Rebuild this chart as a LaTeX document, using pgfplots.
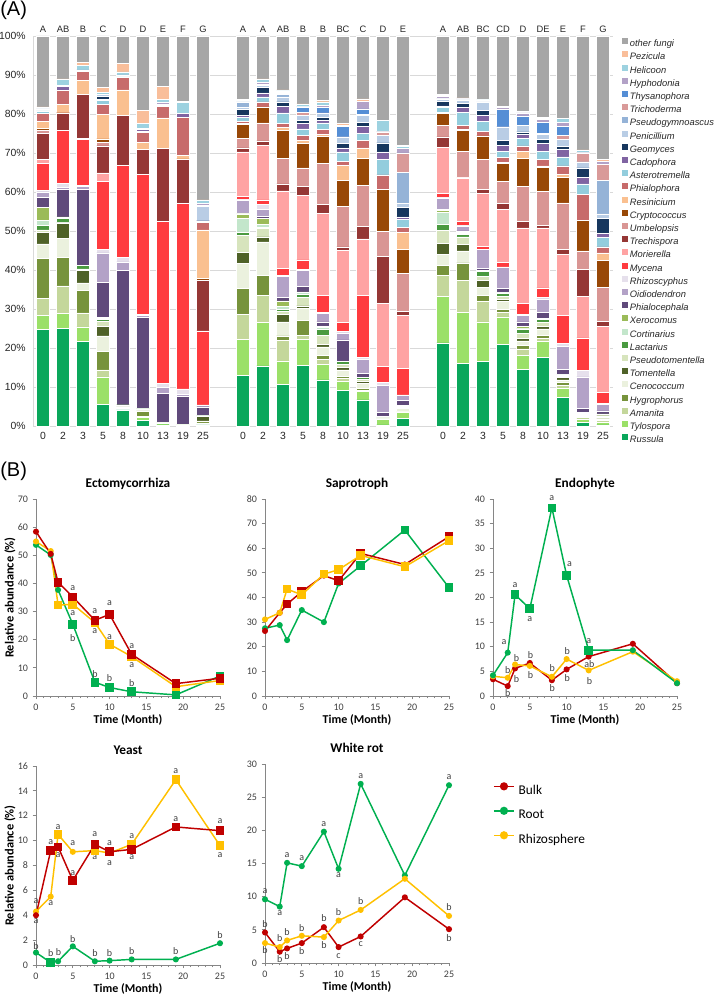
\documentclass[border=0pt]{standalone}
\usepackage{pgfplots}
\pgfplotsset{compat=1.18}
\usepackage{pgfplotstable}
\usepackage{fontspec}
\setmainfont{Liberation Sans}
\newfontfamily\calfont{Carlito}

\definecolor{cRus}{HTML}{0AA75B}
\definecolor{cTyl}{HTML}{9BE068}
\definecolor{cAma}{HTML}{C4D79B}
\definecolor{cHyg}{HTML}{77933C}
\definecolor{cCen}{HTML}{EBF1DE}
\definecolor{cTom}{HTML}{4F6228}
\definecolor{cPst}{HTML}{D7E4BD}
\definecolor{cLac}{HTML}{4A9A40}
\definecolor{cCor}{HTML}{C3E6CB}
\definecolor{cXer}{HTML}{9BBB59}
\definecolor{cPhc}{HTML}{604A7B}
\definecolor{cOid}{HTML}{B3A2C7}
\definecolor{cRhi}{HTML}{E6E0EC}
\definecolor{cMyc}{HTML}{FF3B3F}
\definecolor{cMor}{HTML}{FFA3A3}
\definecolor{cTre}{HTML}{953735}
\definecolor{cUmb}{HTML}{D99694}
\definecolor{cCry}{HTML}{984807}
\definecolor{cRes}{HTML}{FAC090}
\definecolor{cPho}{HTML}{C76B6B}
\definecolor{cAst}{HTML}{93CDDD}
\definecolor{cCad}{HTML}{8064A2}
\definecolor{cGeo}{HTML}{17375E}
\definecolor{cPen}{HTML}{B9CDE5}
\definecolor{cPgy}{HTML}{95B3D7}
\definecolor{cTri}{HTML}{D99A99}
\definecolor{cThy}{HTML}{558ED5}
\definecolor{cHyp}{HTML}{B3A2C7}
\definecolor{cHel}{HTML}{9DD2E0}
\definecolor{cPez}{HTML}{F9BE9A}
\definecolor{cOth}{HTML}{A6A6A6}
\definecolor{cBulk}{HTML}{C00000}
\definecolor{cRoot}{HTML}{00B050}
\definecolor{cRhz}{HTML}{FFC000}
\definecolor{cAx}{HTML}{868686}
\definecolor{cTx}{HTML}{404040}
\definecolor{cGrid}{HTML}{D9D9D9}

% cumulative tops (%) of each genus in each bar, bottom (Russula) to top (other fungi)
\pgfplotstableread{
x Rus Tyl Ama Hyg Cen Tom Pst Lac Cor Xer Phc Oid Rhi Myc Mor Tre Umb Cry Res Pho Ast Cad Geo Pen Pgy Tri Thy Hyp Hel Pez Oth
0 24.7 28.3 32.8 42.9 46.7 49.7 50.3 51.5 52.7 56.0 58.7 60.0 60.4 67.4 68.4 75.1 75.8 76.3 78.2 80.1 80.8 81.0 81.1 81.2 81.3 81.4 81.4 81.5 81.7 81.8 100
1 25.1 28.8 35.9 43.3 48.2 52.1 52.3 53.2 53.3 53.6 60.6 61.1 62.3 75.8 75.8 80.3 80.3 80.3 82.4 86.1 86.1 87.1 87.1 87.1 87.1 87.1 87.1 87.4 88.8 89.0 100
2 21.7 25.4 29.0 34.8 36.7 39.9 40.3 41.1 41.1 41.1 60.6 61.5 61.7 73.5 73.8 85.0 85.0 85.0 88.6 91.0 91.0 91.1 91.1 91.2 91.2 91.2 91.2 91.3 92.4 93.2 100
3 5.6 12.6 14.4 19.1 23.1 25.5 26.9 27.4 27.6 27.8 36.8 44.4 45.2 62.7 64.9 71.8 72.8 73.6 79.9 82.4 83.5 83.8 84.6 85.0 85.0 85.0 85.0 85.1 85.6 86.9 100
4 4.1 4.3 4.5 4.9 5.1 5.1 5.3 5.4 5.4 5.4 39.9 42.1 43.3 66.8 66.8 79.7 79.7 79.7 86.2 89.3 89.5 89.7 89.7 89.8 89.8 89.8 89.8 90.0 90.8 92.9 100
5 1.5 2.2 2.4 3.9 4.1 4.2 4.3 4.4 4.4 4.5 27.8 28.3 28.7 64.5 64.5 70.9 70.9 70.9 72.8 75.3 75.6 76.0 76.0 76.1 76.1 76.1 76.1 76.3 77.6 80.9 100
6 0.3 0.6 0.8 1.0 1.0 1.0 1.0 1.0 1.0 1.0 8.4 9.9 10.9 52.5 52.5 71.1 71.2 71.2 79.0 82.0 82.0 82.3 82.3 82.4 82.4 82.4 82.4 83.0 83.8 87.1 100
7 0.2 0.3 0.4 0.5 0.5 0.5 0.5 0.5 0.5 0.5 7.5 8.2 9.5 57.0 57.0 68.3 68.3 68.5 69.4 79.1 79.1 80.1 80.1 80.1 80.1 80.1 80.1 80.2 83.0 83.3 100
8 0.3 0.5 0.8 1.2 1.3 2.4 2.5 2.6 2.6 2.7 4.9 5.3 5.4 24.4 24.4 37.4 37.4 37.8 50.3 52.3 52.3 52.6 52.6 56.3 56.5 56.5 56.5 57.0 57.9 58.0 100
10 13.0 22.2 28.6 35.2 41.6 44.6 48.9 49.7 53.2 54.4 54.5 58.0 58.2 58.9 70.3 71.3 73.8 77.3 77.5 78.2 79.1 79.7 81.1 81.6 83.1 83.2 83.2 83.5 83.7 83.8 100
11 15.4 26.5 33.4 38.6 47.2 48.5 50.6 51.0 51.6 53.2 53.8 55.5 56.8 58.0 72.0 73.1 77.7 81.8 81.8 83.1 84.4 85.4 86.8 87.3 87.5 87.5 87.5 88.2 88.9 89.0 100
12 10.7 16.7 21.9 23.1 26.7 28.6 29.3 29.9 30.6 32.1 33.0 38.3 38.7 40.4 60.3 62.1 68.7 75.8 76.5 77.5 80.3 82.0 83.1 84.4 85.0 85.2 85.2 85.5 85.9 86.2 100
13 15.5 22.3 23.3 27.0 30.2 30.8 32.9 33.8 34.2 34.4 35.7 39.8 40.2 42.6 59.1 61.5 66.2 72.4 73.2 74.5 76.2 77.5 78.4 79.7 79.7 80.5 81.8 82.0 82.4 82.6 100
14 11.8 15.8 17.1 18.2 20.3 20.9 23.3 24.8 25.3 25.5 26.7 28.9 29.1 33.4 54.6 56.8 67.3 74.3 74.8 76.0 77.7 78.4 79.2 80.1 80.1 80.3 81.6 82.2 83.1 83.4 100
15 9.2 11.5 12.2 12.8 14.4 15.0 15.8 16.5 16.5 16.5 22.1 23.9 24.2 26.6 45.0 45.9 56.4 63.0 66.8 67.9 70.3 71.3 72.4 74.1 74.1 74.1 76.8 76.9 77.0 77.5 100
16 6.7 8.8 9.2 9.7 10.9 11.5 12.0 12.4 12.4 12.4 13.5 17.1 17.6 33.5 48.0 51.2 61.7 68.7 71.3 73.2 75.1 76.9 77.9 79.6 79.6 79.8 81.3 83.2 83.2 83.9 100
17 0.3 1.8 2.0 2.1 2.2 2.2 2.3 2.3 2.3 2.4 3.5 10.5 11.1 15.3 31.5 43.5 49.9 60.6 60.6 64.4 68.3 70.3 72.6 74.5 74.5 75.4 75.4 75.6 78.4 78.4 100
18 2.0 3.4 3.6 3.8 4.5 4.7 5.0 5.1 5.1 5.2 6.5 7.8 8.0 14.7 28.4 29.4 39.2 45.2 49.7 50.9 53.0 53.6 56.0 57.0 65.1 70.0 70.0 71.1 71.7 71.9 100
20 21.3 33.2 38.6 41.2 44.0 46.8 50.2 51.7 54.7 55.3 55.6 58.5 58.7 59.7 71.5 74.1 77.0 80.1 80.1 80.5 81.6 82.1 83.2 83.7 83.9 84.0 84.0 84.5 84.8 85.0 100
21 16.1 29.1 37.4 41.8 44.9 46.5 48.5 49.1 49.3 49.6 50.0 51.3 51.5 52.5 63.6 63.8 70.4 75.8 76.1 77.1 80.5 81.6 82.8 83.5 83.6 83.7 83.7 83.9 84.0 84.1 100
22 16.5 26.7 31.9 33.4 35.5 37.4 38.3 39.6 39.7 39.8 40.4 45.2 45.3 46.1 59.6 60.6 68.3 74.4 74.4 75.6 78.2 79.7 80.9 83.1 83.2 83.3 83.3 83.5 83.6 83.8 100
23 20.9 28.0 29.1 29.9 31.9 32.5 33.2 34.0 34.1 34.3 35.3 40.6 40.8 41.9 55.6 57.0 62.8 67.3 67.6 68.8 70.5 72.0 73.2 76.7 76.7 76.7 81.1 81.6 81.7 82.0 100
24 14.5 18.1 19.8 20.7 21.8 22.4 23.7 24.9 25.1 25.5 26.7 28.3 28.7 31.5 50.8 52.5 61.5 68.7 70.5 71.8 73.7 74.8 75.4 77.1 77.1 77.1 79.5 80.3 80.4 80.7 100
25 17.5 21.6 22.5 23.3 24.9 25.5 26.5 27.4 27.5 27.6 29.1 32.6 33.0 35.4 50.8 51.5 60.2 66.4 66.7 68.3 70.5 72.4 73.4 74.8 74.8 75.0 77.8 78.6 78.8 79.1 100
26 7.3 9.8 10.5 11.1 11.8 12.4 12.8 13.0 13.1 13.2 14.6 20.5 21.2 28.4 44.0 45.2 57.2 63.7 64.5 66.7 69.0 70.9 71.7 73.4 73.4 74.5 76.8 77.9 78.8 78.9 100
27 1.0 1.8 2.2 2.5 2.8 3.0 3.2 3.3 3.4 3.5 4.5 12.6 14.2 22.6 33.2 40.1 44.9 52.7 52.7 59.4 62.1 63.7 66.2 67.7 67.7 70.0 70.0 70.2 70.7 70.8 100
28 0.3 1.0 1.5 1.8 2.2 2.6 2.9 3.0 3.0 3.1 3.9 5.6 5.8 8.7 25.6 26.9 35.6 42.5 44.4 45.9 48.3 49.3 53.2 54.4 63.0 67.1 67.1 67.8 67.8 68.3 100
}\bars

\pgfplotsset{
  gbar/.style={ybar, bar width=0.66, bar shift=0pt, fill=#1, draw=white, line width=0.4pt,
    legend image code/.code={\fill[#1] (0pt,0.4pt) rectangle (3.75pt,4.15pt);}},
  ser/.style={draw=#1, line width=1.1pt, scatter, scatter src=explicit symbolic,
    scatter/classes={c={mark=*, mark size=1.7pt, draw=#1, fill=#1}, s={mark=square*, mark size=2.7pt, draw=#1, fill=#1}}},
  lineax/.style={scale only axis, width=138pt, xmin=0, xmax=25, xtick={0,5,...,25}, minor x tick num=4,
    axis x line*=bottom, axis y line*=left, axis line style={draw=cAx, line width=0.6pt},
    tick style={draw=cAx, line width=0.6pt}, tick align=outside, major tick length=2.5pt, minor tick length=1.8pt,
    ticklabel style={font=\calfont\fontsize{7.5}{9}\selectfont, text=cTx},
    /pgf/number format/assume math mode=true, clip=false,
    title style={font=\calfont\bfseries\fontsize{10}{12}\selectfont, at={(0.5,1)}, anchor=base, yshift=2.7pt},
    xlabel={Time (Month)}, xlabel style={font=\calfont\bfseries\fontsize{9}{11}\selectfont, yshift=3.5pt},
    ylabel style={font=\calfont\bfseries\fontsize{9.3}{11}\selectfont, at={(axis description cs:-0.141,0.5)}, anchor=center}}
}
\tikzset{
  ltr/.style={font=\calfont\fontsize{7.5}{9}\selectfont, text=cTx, inner sep=0pt},
  lab/.style={anchor=base, yshift=2.8pt, font=\fontsize{7}{8}\selectfont, text=black!85}
}

\begin{document}
\begin{tikzpicture}
\useasboundingbox (0,0) rectangle (535.5pt,745.5pt);
\node[anchor=west, inner sep=0pt, font=\fontsize{15}{18}\selectfont] at (0pt,738pt) {(A)};
\node[anchor=west, inner sep=0pt, font=\fontsize{15}{18}\selectfont] at (0pt,392.25pt) {(B)};

\begin{axis}[at={(24.75pt,426pt)}, anchor=south west, scale only axis, width=435pt, height=292.5pt,
  xmin=-0.5, xmax=28.5, ymin=0, ymax=100, clip=false,
  axis x line*=bottom, axis y line*=left, axis line style={draw=cGrid, line width=0.6pt},
  ymajorgrids, grid style={draw=cGrid, line width=0.6pt}, major tick length=0pt,
  ytick={0,10,20,30,40,50,60,70,80,90,100},
  yticklabels={0\%,10\%,20\%,30\%,40\%,50\%,60\%,70\%,80\%,90\%,100\%},
  xtick={0,1,2,3,4,5,6,7,8,10,11,12,13,14,15,16,17,18,20,21,22,23,24,25,26,27,28},
  xticklabels={0,2,3,5,8,10,13,19,25,0,2,3,5,8,10,13,19,25,0,2,3,5,8,10,13,19,25},
  ticklabel style={font=\fontsize{7.8}{9}\selectfont, text=black!85},
  yticklabel style={xshift=-2pt}, xticklabel style={yshift=-1pt},
  legend style={at={(1.0155,0.995)}, anchor=north west, draw=none, fill=none, inner sep=0pt,
    font=\itshape\fontsize{7}{8}\selectfont, text=black!85,
    nodes={inner sep=0pt, text height=5.6pt, text depth=1.6pt}, row sep=1.95pt, column sep=1.6pt},
  legend cell align=left]
\addplot[gbar=cOth] table[x=x,y=Oth]{\bars}; \addlegendentry{other fungi}
\addplot[gbar=cPez] table[x=x,y=Pez]{\bars}; \addlegendentry{Pezicula}
\addplot[gbar=cHel] table[x=x,y=Hel]{\bars}; \addlegendentry{Helicoon}
\addplot[gbar=cHyp] table[x=x,y=Hyp]{\bars}; \addlegendentry{Hyphodonia}
\addplot[gbar=cThy] table[x=x,y=Thy]{\bars}; \addlegendentry{Thysanophora}
\addplot[gbar=cTri] table[x=x,y=Tri]{\bars}; \addlegendentry{Trichoderma}
\addplot[gbar=cPgy] table[x=x,y=Pgy]{\bars}; \addlegendentry{Pseudogymnoascus}
\addplot[gbar=cPen] table[x=x,y=Pen]{\bars}; \addlegendentry{Penicillium}
\addplot[gbar=cGeo] table[x=x,y=Geo]{\bars}; \addlegendentry{Geomyces}
\addplot[gbar=cCad] table[x=x,y=Cad]{\bars}; \addlegendentry{Cadophora}
\addplot[gbar=cAst] table[x=x,y=Ast]{\bars}; \addlegendentry{Asterotremella}
\addplot[gbar=cPho] table[x=x,y=Pho]{\bars}; \addlegendentry{Phialophora}
\addplot[gbar=cRes] table[x=x,y=Res]{\bars}; \addlegendentry{Resinicium}
\addplot[gbar=cCry] table[x=x,y=Cry]{\bars}; \addlegendentry{Cryptococcus}
\addplot[gbar=cUmb] table[x=x,y=Umb]{\bars}; \addlegendentry{Umbelopsis}
\addplot[gbar=cTre] table[x=x,y=Tre]{\bars}; \addlegendentry{Trechispora}
\addplot[gbar=cMor] table[x=x,y=Mor]{\bars}; \addlegendentry{Morierella}
\addplot[gbar=cMyc] table[x=x,y=Myc]{\bars}; \addlegendentry{Mycena}
\addplot[gbar=cRhi] table[x=x,y=Rhi]{\bars}; \addlegendentry{Rhizoscyphus}
\addplot[gbar=cOid] table[x=x,y=Oid]{\bars}; \addlegendentry{Oidiodendron}
\addplot[gbar=cPhc] table[x=x,y=Phc]{\bars}; \addlegendentry{Phialocephala}
\addplot[gbar=cXer] table[x=x,y=Xer]{\bars}; \addlegendentry{Xerocomus}
\addplot[gbar=cCor] table[x=x,y=Cor]{\bars}; \addlegendentry{Cortinarius}
\addplot[gbar=cLac] table[x=x,y=Lac]{\bars}; \addlegendentry{Lactarius}
\addplot[gbar=cPst] table[x=x,y=Pst]{\bars}; \addlegendentry{Pseudotomentella}
\addplot[gbar=cTom] table[x=x,y=Tom]{\bars}; \addlegendentry{Tomentella}
\addplot[gbar=cCen] table[x=x,y=Cen]{\bars}; \addlegendentry{Cenococcum}
\addplot[gbar=cHyg] table[x=x,y=Hyg]{\bars}; \addlegendentry{Hygrophorus}
\addplot[gbar=cAma] table[x=x,y=Ama]{\bars}; \addlegendentry{Amanita}
\addplot[gbar=cTyl] table[x=x,y=Tyl]{\bars}; \addlegendentry{Tylospora}
\addplot[gbar=cRus] table[x=x,y=Rus]{\bars}; \addlegendentry{Russula}
% group letters
\node[lab] at (axis cs:0,100) {A};  \node[lab] at (axis cs:1,100) {AB}; \node[lab] at (axis cs:2,100) {B};
\node[lab] at (axis cs:3,100) {C};  \node[lab] at (axis cs:4,100) {D};  \node[lab] at (axis cs:5,100) {D};
\node[lab] at (axis cs:6,100) {E};  \node[lab] at (axis cs:7,100) {F};  \node[lab] at (axis cs:8,100) {G};
\node[lab] at (axis cs:10,100) {A}; \node[lab] at (axis cs:11,100) {A}; \node[lab] at (axis cs:12,100) {AB};
\node[lab] at (axis cs:13,100) {B}; \node[lab] at (axis cs:14,100) {B}; \node[lab] at (axis cs:15,100) {BC};
\node[lab] at (axis cs:16,100) {C}; \node[lab] at (axis cs:17,100) {D}; \node[lab] at (axis cs:18,100) {E};
\node[lab] at (axis cs:20,100) {A}; \node[lab] at (axis cs:21,100) {AB}; \node[lab] at (axis cs:22,100) {BC};
\node[lab] at (axis cs:23,100) {CD}; \node[lab] at (axis cs:24,100) {D}; \node[lab] at (axis cs:25,100) {DE};
\node[lab] at (axis cs:26,100) {E}; \node[lab] at (axis cs:27,100) {F}; \node[lab] at (axis cs:28,100) {G};
\end{axis}

% ---------------- Ectomycorrhiza
\begin{axis}[lineax, at={(27pt,223.5pt)}, anchor=south west, height=147.75pt, ymin=0, ymax=70,
  ytick={0,10,...,70}, title={Ectomycorrhiza}, ylabel={Relative abundance (\%)}]
\addplot[ser=cRoot] table[meta=m]{
x y m
0 53.7 c
2 50.1 c
3 37.7 c
5 25.5 s
8 4.9 s
10 3.0 s
13 1.5 s
19 0.4 s
25 7.1 s
};
\addplot[ser=cRhz] table[meta=m]{
x y m
0 54.9 c
2 51.5 c
3 32.3 s
5 32.6 s
8 26.1 s
10 18.4 s
13 14.0 s
19 3.3 s
25 5.5 s
};
\addplot[ser=cBulk] table[meta=m]{
x y m
0 58.4 c
2 50.5 c
3 40.4 s
5 35.2 s
8 26.9 s
10 29.0 s
13 14.8 s
19 4.4 s
25 6.3 s
};
\node[ltr] at (axis cs:5,38.3) {a}; \node[ltr] at (axis cs:5,29.6) {a}; \node[ltr] at (axis cs:5,20.5) {b};
\node[ltr] at (axis cs:8,30.0) {a}; \node[ltr] at (axis cs:8,22.9) {a}; \node[ltr] at (axis cs:8,7.8) {b};
\node[ltr] at (axis cs:10,32.9) {a}; \node[ltr] at (axis cs:10,20.9) {a}; \node[ltr] at (axis cs:10,6.3) {b};
\node[ltr] at (axis cs:13,17.9) {a}; \node[ltr] at (axis cs:13,11.0) {a}; \node[ltr] at (axis cs:13,4.5) {b};
\end{axis}

% ---------------- Saprotroph
\begin{axis}[lineax, at={(198.75pt,223.5pt)}, anchor=south west, height=147.75pt, ymin=0, ymax=80,
  ytick={0,10,...,80}, title={Saprotroph}]
\addplot[ser=cRoot] table[meta=m]{
x y m
0 27.5 c
2 28.8 c
3 22.7 c
5 34.9 c
8 30.0 c
10 45.7 c
13 52.9 s
19 67.4 s
25 44.0 s
};
\addplot[ser=cBulk] table[meta=m]{
x y m
0 26.4 c
2 33.8 c
3 37.3 s
5 42.4 s
8 48.9 c
10 46.8 s
13 57.9 s
19 53.4 c
25 64.7 s
};
\addplot[ser=cRhz] table[meta=m]{
x y m
0 31.1 c
2 33.8 c
3 43.4 s
5 41.1 s
8 49.5 s
10 51.3 s
13 57.1 s
19 52.5 s
25 63.1 s
};
\end{axis}

% ---------------- Endophyte
\begin{axis}[lineax, at={(369.75pt,223.5pt)}, anchor=south west, height=147.75pt, ymin=0, ymax=40,
  ytick={0,5,...,40}, title={Endophyte}]
\addplot[ser=cBulk] table[meta=m]{
x y m
0 3.4 c
2 2.0 c
3 5.6 c
5 6.7 c
8 3.2 c
10 5.4 c
13 8.0 c
19 10.6 c
25 2.6 c
};
\addplot[ser=cRhz] table[meta=m]{
x y m
0 4.0 c
2 3.7 c
3 6.4 c
5 6.1 c
8 3.9 c
10 7.5 c
13 5.2 c
19 9.0 c
25 3.0 c
};
\addplot[ser=cRoot] table[meta=m]{
x y m
0 4.2 c
2 8.8 c
3 20.6 s
5 17.7 s
8 38.2 s
10 24.5 s
13 9.3 s
19 9.3 c
25 2.6 c
};
\node[ltr] at (axis cs:1.5,11.0) {a}; \node[ltr] at (axis cs:2.0,5.3) {b}; \node[ltr] at (axis cs:2.0,0.5) {b};
\node[ltr] at (axis cs:3.0,22.6) {a}; \node[ltr] at (axis cs:3.2,7.8) {b}; \node[ltr] at (axis cs:3.2,3.4) {b};
\node[ltr] at (axis cs:5,15.7) {a}; \node[ltr] at (axis cs:5.1,8.3) {b}; \node[ltr] at (axis cs:5.1,4.2) {b};
\node[ltr] at (axis cs:8,40.1) {a}; \node[ltr] at (axis cs:8.05,5.6) {b}; \node[ltr] at (axis cs:8.05,1.6) {b};
\node[ltr] at (axis cs:10.4,26.7) {a}; \node[ltr] at (axis cs:10.1,9.2) {b}; \node[ltr] at (axis cs:10.1,3.6) {b};
\node[ltr] at (axis cs:13,11.2) {a}; \node[ltr] at (axis cs:13.1,6.5) {ab}; \node[ltr] at (axis cs:13.1,3.1) {b};
\end{axis}

% ---------------- Yeast
\begin{axis}[lineax, at={(27pt,21.75pt)}, anchor=south west, height=149.25pt, ymin=0, ymax=16,
  ytick={0,2,...,16}, title={Yeast}, ylabel={Relative abundance (\%)}]
\addplot[ser=cRoot] table[meta=m]{
x y m
0 1.0 c
2 0.2 s
3 0.3 c
5 1.5 c
8 0.3 c
10 0.35 c
13 0.45 c
19 0.45 c
25 1.75 c
};
\addplot[ser=cRhz] table[meta=m]{
x y m
0 4.3 c
2 5.5 c
3 10.5 s
5 9.1 c
8 9.2 s
10 9.0 c
13 9.7 s
19 14.9 s
25 9.6 s
};
\addplot[ser=cBulk] table[meta=m]{
x y m
0 4.0 c
2 9.2 s
3 9.5 s
5 6.8 s
8 9.7 s
10 9.1 s
13 9.3 s
19 11.1 s
25 10.8 s
};
\node[ltr] at (axis cs:0,5.1) {a}; \node[ltr] at (axis cs:0,3.5) {a}; \node[ltr] at (axis cs:0,1.55) {b};
\node[ltr] at (axis cs:2,9.9) {a}; \node[ltr] at (axis cs:2,5.0) {a}; \node[ltr] at (axis cs:2,0.94) {b};
\node[ltr] at (axis cs:3,11.1) {a}; \node[ltr] at (axis cs:3,8.8) {a}; \node[ltr] at (axis cs:3.07,1.0) {b};
\node[ltr] at (axis cs:5,9.8) {a}; \node[ltr] at (axis cs:5,7.4) {a}; \node[ltr] at (axis cs:5,2.1) {b};
\node[ltr] at (axis cs:8,10.5) {a}; \node[ltr] at (axis cs:8,8.7) {a}; \node[ltr] at (axis cs:8,0.94) {b};
\node[ltr] at (axis cs:10,9.8) {a}; \node[ltr] at (axis cs:10,8.2) {a}; \node[ltr] at (axis cs:10,0.94) {b};
\node[ltr] at (axis cs:13,10.4) {a}; \node[ltr] at (axis cs:13,8.7) {a}; \node[ltr] at (axis cs:13,1.15) {b};
\node[ltr] at (axis cs:19,15.6) {a}; \node[ltr] at (axis cs:19,11.7) {a}; \node[ltr] at (axis cs:19,1.15) {b};
\node[ltr] at (axis cs:25,11.6) {a}; \node[ltr] at (axis cs:25,8.85) {a}; \node[ltr] at (axis cs:25,2.4) {b};
\end{axis}

% ---------------- White rot (with legend)
\begin{axis}[lineax, at={(198.75pt,23.25pt)}, anchor=south west, height=149.25pt, ymin=0, ymax=30,
  ytick={0,5,...,30}, title={White rot},
  legend style={at={(1.239,0.9095)}, anchor=north west, draw=none, fill=none, inner sep=0pt,
    font=\calfont\fontsize{10}{12}\selectfont, text=black,
    nodes={inner sep=0pt, text height=7pt, text depth=2pt}, row sep=7.5pt, column sep=3pt},
  legend cell align=left,
  legend image code/.code={\draw[#1, line width=1.1pt] (0pt,3.3pt) -- (15pt,3.3pt);
    \fill[#1] (7.5pt,3.3pt) circle (2.5pt);}]
\addplot[color=cBulk, line width=1.1pt, mark=*, mark size=1.7pt] coordinates {
(0,4.6) (2,1.7) (3,2.2) (5,3.0) (8,5.4) (10,2.4) (13,4.0) (19,9.9) (25,5.1)};
\addlegendentry{Bulk}
\addplot[color=cRoot, line width=1.1pt, mark=*, mark size=1.7pt] coordinates {
(0,9.6) (2,8.5) (3,15.1) (5,14.6) (8,19.8) (10,14.2) (13,27.0) (19,13.2) (25,26.8)};
\addlegendentry{Root}
\addplot[color=cRhz, line width=1.1pt, mark=*, mark size=1.7pt] coordinates {
(0,3.0) (2,2.4) (3,3.4) (5,4.1) (8,3.9) (10,6.4) (13,8.0) (19,12.7) (25,7.1)};
\addlegendentry{Rhizosphere}
\node[ltr] at (axis cs:0,10.8) {a}; \node[ltr] at (axis cs:0,5.9) {b}; \node[ltr] at (axis cs:0,1.9) {b};
\node[ltr] at (axis cs:2,7.5) {a}; \node[ltr] at (axis cs:2,3.7) {b}; \node[ltr] at (axis cs:2,0.65) {b};
\node[ltr] at (axis cs:3,16.3) {a}; \node[ltr] at (axis cs:3,4.7) {b}; \node[ltr] at (axis cs:3,1.0) {b};
\node[ltr] at (axis cs:5,15.8) {a}; \node[ltr] at (axis cs:5,5.3) {b}; \node[ltr] at (axis cs:5,1.8) {b};
\node[ltr] at (axis cs:8,21.0) {a}; \node[ltr] at (axis cs:8,6.7) {b}; \node[ltr] at (axis cs:8,2.7) {b};
\node[ltr] at (axis cs:10,13.2) {a}; \node[ltr] at (axis cs:10,7.7) {b}; \node[ltr] at (axis cs:10,1.1) {c};
\node[ltr] at (axis cs:13,28.1) {a}; \node[ltr] at (axis cs:13,9.3) {b}; \node[ltr] at (axis cs:13,2.8) {c};
\node[ltr] at (axis cs:25,28.0) {a}; \node[ltr] at (axis cs:25,8.5) {b}; \node[ltr] at (axis cs:25,3.7) {b};
\end{axis}
\end{tikzpicture}
\end{document}
